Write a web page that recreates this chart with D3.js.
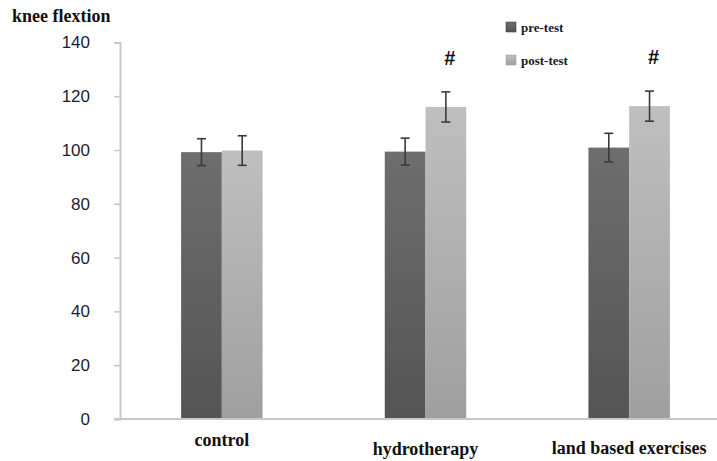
<!DOCTYPE html>
<html>
<head>
<meta charset="utf-8">
<script src="https://cdn.jsdelivr.net/npm/d3@7"></script>
<style>
  html, body { margin: 0; padding: 0; background: #fff; }
  svg { display: block; }
</style>
</head>
<body>
<svg id="chart" width="717" height="461"></svg>
<script>
// Knee flextion, pre-test vs post-test per group
const categories = ["control", "hydrotherapy", "land based exercises"];
const seriesNames = ["pre-test", "post-test"];
const preValues = [99.2, 99.4, 100.9];
const postValues = [99.8, 116.0, 116.3];
const preErrors = [5.0, 5.0, 5.3];
const postErrors = [5.5, 5.6, 5.6];
const significant = [false, true, true];
const yTicks = [0, 20, 40, 60, 80, 100, 120, 140];

const svg = d3.select("#chart");
const plot = { left: 120, right: 731, top: 42, bottom: 419 };

const x0 = d3.scaleBand()
  .domain(categories)
  .range([plot.left, plot.right])
  .paddingInner(0.6)
  .paddingOuter(0.3);

const x1 = d3.scaleBand()
  .domain(seriesNames)
  .range([0, x0.bandwidth()]);

const y = d3.scaleLinear().domain([0, 140]).range([plot.bottom, plot.top + 0.4]);

const colors = {
  "pre-test": ["#6e6e6e", "#545454"],
  "post-test": ["#bfbfbf", "#9f9f9f"]
};

// vertical shading for the bars
const defs = svg.append("defs");
seriesNames.forEach((s, i) => {
  const g = defs.append("linearGradient")
    .attr("id", "grad" + i)
    .attr("x1", 0).attr("y1", 0).attr("x2", 0).attr("y2", 1);
  g.append("stop").attr("offset", "0%").attr("stop-color", colors[s][0]);
  g.append("stop").attr("offset", "100%").attr("stop-color", colors[s][1]);
});
defs.append("filter").attr("id", "soft")
  .append("feGaussianBlur").attr("stdDeviation", 0.6);

// y axis
const yAxis = d3.axisLeft(y).tickValues(yTicks).tickSize(6).tickPadding(24);
const ya = svg.append("g").attr("transform", `translate(${plot.left},0)`).call(yAxis);
ya.select(".domain").attr("stroke", "#c8c8c8").attr("stroke-width", 2);
ya.selectAll(".tick line").attr("stroke", "#c8c8c8").attr("stroke-width", 1.5);
ya.selectAll(".tick text")
  .attr("fill", "#1c1c30")
  .style("font-family", "'Liberation Sans', Arial, sans-serif")
  .style("font-size", "17px");

// bars
const rows = categories.map((c, i) => ({
  cat: c,
  vals: [
    { s: "pre-test", v: preValues[i], e: preErrors[i], idx: 0 },
    { s: "post-test", v: postValues[i], e: postErrors[i], idx: 1 }
  ]
}));

const groups = svg.append("g").selectAll("g")
  .data(rows).join("g")
  .attr("transform", d => `translate(${x0(d.cat)},0)`);

groups.selectAll("rect")
  .data(d => d.vals).join("rect")
  .attr("x", d => x1(d.s))
  .attr("y", d => y(d.v))
  .attr("width", x1.bandwidth())
  .attr("height", d => y(0) - y(d.v))
  .attr("fill", d => `url(#grad${d.idx})`)
  .attr("filter", "url(#soft)");

// x axis line
svg.append("line")
  .attr("x1", plot.left - 6).attr("x2", 717)
  .attr("y1", y(0)).attr("y2", y(0))
  .attr("stroke", "#c8c8c8").attr("stroke-width", 2);

// error bars
const cap = 4.5;
groups.selectAll("g.err")
  .data(d => d.vals).join("g")
  .attr("class", "err")
  .each(function(d) {
    const cx = x1(d.s) + x1.bandwidth() / 2;
    const g = d3.select(this).attr("stroke", "#3a3a3a").attr("stroke-width", 1.6);
    g.append("line").attr("x1", cx).attr("x2", cx).attr("y1", y(d.v + d.e)).attr("y2", y(d.v - d.e));
    g.append("line").attr("x1", cx - cap).attr("x2", cx + cap).attr("y1", y(d.v + d.e)).attr("y2", y(d.v + d.e));
    g.append("line").attr("x1", cx - cap).attr("x2", cx + cap).attr("y1", y(d.v - d.e)).attr("y2", y(d.v - d.e));
  });

// significance marks above post-test bars
groups.filter((d, i) => significant[i])
  .append("text")
  .attr("x", x1("post-test") + x1.bandwidth() / 2 + 4)
  .attr("y", d => y(d.vals[1].v + d.vals[1].e) - 27)
  .attr("text-anchor", "middle")
  .style("font-family", "'Liberation Sans', Arial, sans-serif")
  .style("font-weight", "bold")
  .style("font-size", "20px")
  .attr("fill", "#111")
  .text("#");

// category labels
const catLabelY = [446, 455, 454];
svg.append("g").selectAll("text")
  .data(categories).join("text")
  .attr("x", d => x0(d) + x0.bandwidth() / 2)
  .attr("y", (d, i) => catLabelY[i])
  .attr("text-anchor", "middle")
  .style("font-family", "'Liberation Serif', 'Times New Roman', serif")
  .style("font-weight", "bold")
  .style("font-size", "18px")
  .attr("fill", "#111")
  .text(d => d);

// y axis title
svg.append("text")
  .attr("x", 12).attr("y", 22)
  .style("font-family", "'Liberation Serif', 'Times New Roman', serif")
  .style("font-weight", "bold")
  .style("font-size", "18px")
  .attr("fill", "#111")
  .text("knee flextion");

// legend
const legend = svg.append("g").attr("transform", "translate(506,0)");
const legendY = [22, 55];
seriesNames.forEach((s, i) => {
  legend.append("rect")
    .attr("x", 0).attr("y", legendY[i])
    .attr("width", 10).attr("height", 10)
    .attr("fill", `url(#grad${i})`)
    .attr("stroke", i === 0 ? "#333" : "#999").attr("stroke-width", 0.5);
  legend.append("text")
    .attr("x", 15).attr("y", legendY[i] + 10)
    .style("font-family", "'Liberation Serif', 'Times New Roman', serif")
    .style("font-weight", "bold")
    .style("font-size", "13px")
    .attr("fill", "#1a1a2a")
    .text(s);
});
</script>
</body>
</html>
